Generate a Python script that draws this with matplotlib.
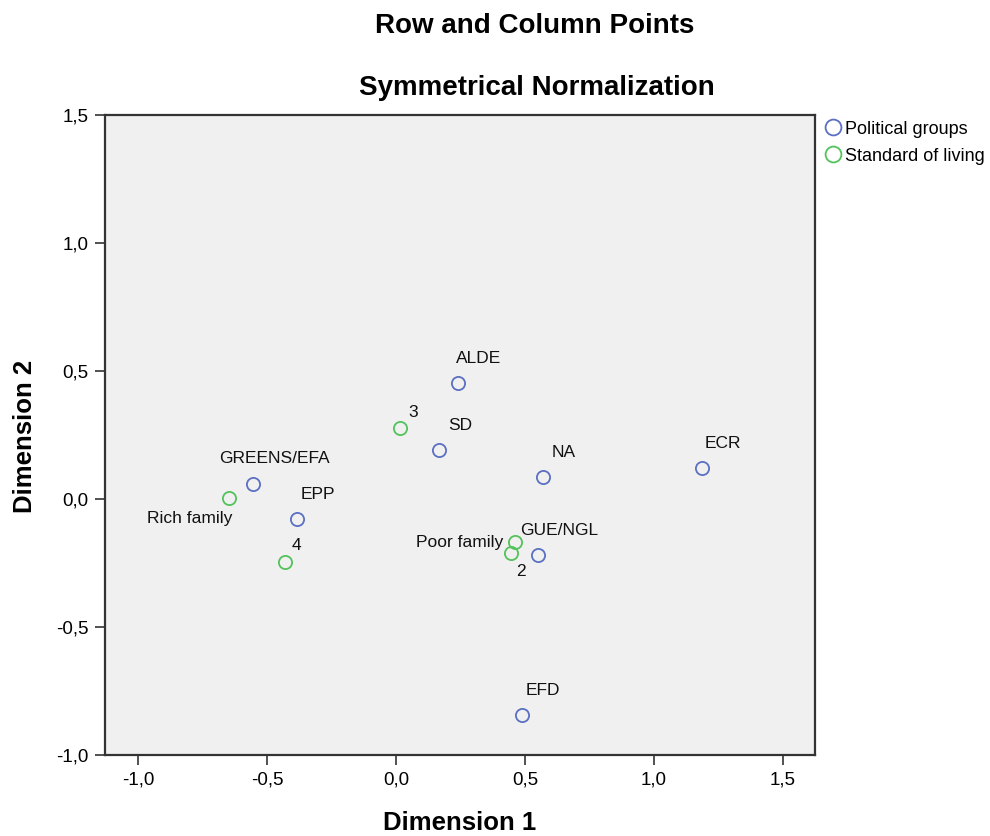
import matplotlib
matplotlib.use("Agg")
import matplotlib.pyplot as plt
from matplotlib.ticker import FuncFormatter

plt.rcParams['font.family'] = ['Liberation Sans', 'DejaVu Sans']

# row points (political groups)
groups = ['ALDE', 'SD', 'NA', 'ECR', 'GREENS/EFA', 'EPP', 'GUE/NGL', 'EFD']
groups_x = [0.240, 0.167, 0.570, 1.186, -0.554, -0.384, 0.550, 0.488]
groups_y = [0.453, 0.191, 0.086, 0.121, 0.059, -0.078, -0.219, -0.844]

# column points (standard of living)
living = ['3', 'Rich family', '4', 'Poor family', '2']
living_x = [0.016, -0.647, -0.430, 0.461, 0.446]
living_y = [0.277, 0.004, -0.246, -0.168, -0.211]

blue = '#5b6fc3'
green = '#52c35a'

# label offsets in pixels (dx, dy, ha)
default_off = (21, 25, 'center')
label_off = {
    '4': (7, 17, 'left'),
    '3': (8, 16, 'left'),
    'Rich family': (3, -20, 'right'),
    'Poor family': (-12, 0, 'right'),
    '2': (10, -18, 'center'),
}

fig = plt.figure(figsize=(9.9, 8.36), dpi=100)
ax = fig.add_axes([0.106, 0.097, 0.717, 0.765])
ax.set_facecolor('#f0f0f0')

ax.plot(groups_x, groups_y, 'o', ms=9.5, mfc='none', mec=blue, mew=1.3,
        label='Political groups', zorder=3)
ax.plot(living_x, living_y, 'o', ms=9.5, mfc='none', mec=green, mew=1.3,
        label='Standard of living', zorder=3)

for names, xs, ys in [(groups, groups_x, groups_y), (living, living_x, living_y)]:
    for n, x, y in zip(names, xs, ys):
        dx, dy, ha = label_off.get(n, default_off)
        ax.annotate(n, (x, y), xytext=(dx, dy), textcoords='offset pixels',
                    ha=ha, va='center', fontsize=12.5, color='#111111')

ax.set_xlim(-1.128, 1.624)
ax.set_ylim(-1.0, 1.5)
ax.set_xticks([-1.0, -0.5, 0.0, 0.5, 1.0, 1.5])
ax.set_yticks([-1.0, -0.5, 0.0, 0.5, 1.0, 1.5])
fmt = FuncFormatter(lambda v, p: f"{v:.1f}".replace('.', ','))
ax.xaxis.set_major_formatter(fmt)
ax.yaxis.set_major_formatter(fmt)
ax.tick_params(labelsize=13.5, length=7, width=1.2, color='#333333', pad=5)

for s in ax.spines.values():
    s.set_linewidth(1.6)
    s.set_color('#333333')

fig.text(460 / 990, 1 - 823 / 836, 'Dimension 1', ha='center', va='center',
         fontsize=18.5, fontweight='bold')
fig.text(25 / 990, 1 - 436 / 836, 'Dimension 2', ha='center', va='center',
         rotation=90, fontsize=18.5, fontweight='bold')

fig.text(535 / 990, 1 - 26 / 836, 'Row and Column Points', ha='center',
         va='center', fontsize=20, fontweight='bold')
fig.text(537 / 990, 1 - 88 / 836, 'Symmetrical Normalization', ha='center',
         va='center', fontsize=20, fontweight='bold')

ax.legend(loc='upper left', bbox_to_anchor=(1.0, 1.0), frameon=False,
          fontsize=13, handletextpad=0.0, borderaxespad=0.1, markerscale=1.2,
          borderpad=0.2, labelspacing=0.55, handlelength=1.4)

fig.savefig('out.png', dpi=100)
